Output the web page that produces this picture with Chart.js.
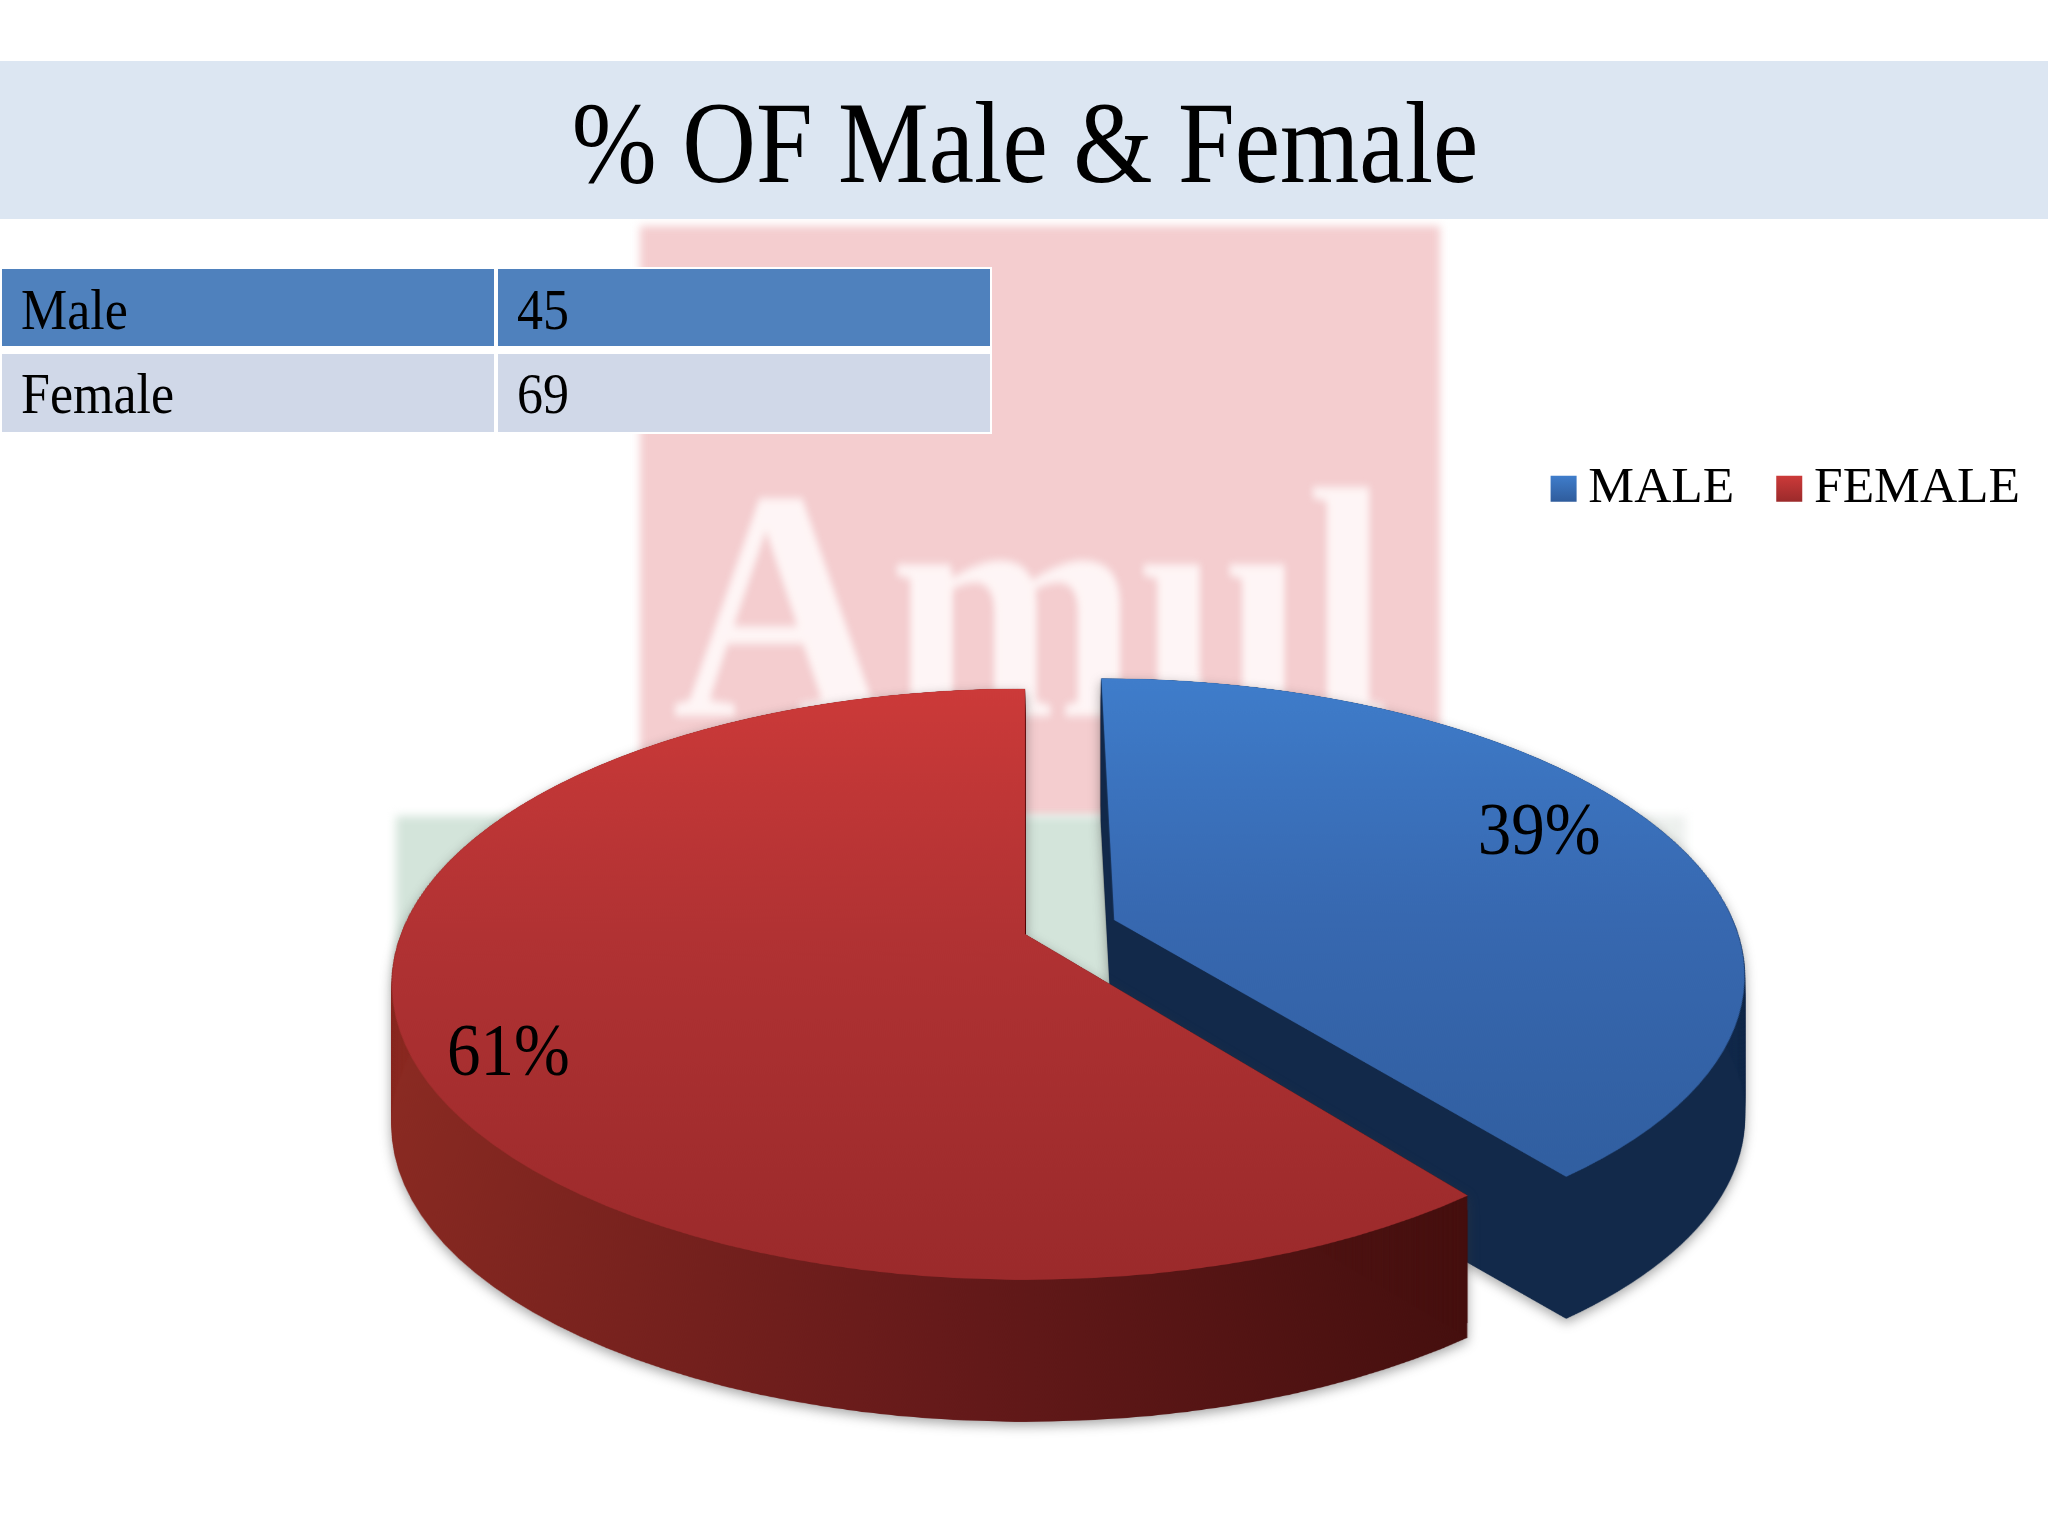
<!DOCTYPE html>
<html lang="en">
<head>
    <meta charset="UTF-8">
    <title>% OF Male &amp; Female</title>
    <script src="https://cdn.jsdelivr.net/npm/chart.js"></script>
    <style>
        html, body {
            margin: 0;
            width: 2048px;
            height: 1536px;
            overflow: hidden;
            background: #fff;
            font-family: 'Liberation Serif', serif;
            color: #000;
        }

        .mark-red {
            position: absolute;
            left: 640px;
            top: 226px;
            width: 800px;
            height: 590px;
            background: #f4cdcf;
            filter: blur(4px);
        }

        .mark-green {
            position: absolute;
            left: 396px;
            top: 816px;
            width: 1290px;
            height: 180px;
            background: linear-gradient(90deg, #d3e4da, #d3e4da 65%, #eef1ef);
            filter: blur(5px);
        }

        .mark-text {
            position: absolute;
            left: 672px;
            top: 440px;
            font-size: 330px;
            line-height: 330px;
            font-weight: bold;
            color: rgba(255,250,250,0.9);
            filter: blur(4px);
            transform: scaleX(0.91);
            transform-origin: left top;
        }

        .band {
            position: absolute;
            left: 0;
            top: 61px;
            width: 2048px;
            height: 158px;
            background: #dce6f2;
            text-align: center;
        }

        .band h1 {
            margin: 3px 0 0 2px;
            font-size: 102px;
            font-weight: normal;
            line-height: 158px;
            transform: scaleY(1.14);
        }

        table {
            position: absolute;
            left: 0;
            top: 267px;
            border-collapse: separate;
            border-spacing: 0;
            background: #fff;
        }

        td {
            box-sizing: border-box;
            padding: 0 0 0 19px;
            font-size: 52px;
            border: 2px solid #fff;
        }

        td:first-child { width: 496px; }
        td:last-child { width: 496px; }
        tr:nth-child(1) td { background: #4f81bd; height: 83px; border-bottom-width: 4px; padding-top: 4px; }
        tr:nth-child(2) td { background: #d0d8e8; height: 84px; border-top-width: 4px; }
        td span { display: inline-block; transform: scaleY(1.1); }

        #pie {
            position: absolute;
            left: 0;
            top: 0;
        }
    </style>
</head>
<body>
    <div class="mark-red"></div>
    <div class="mark-green"></div>
    <div class="mark-text">Amul</div>
    <div class="band"><h1>% OF Male &amp; Female</h1></div>
    <table id="counts"></table>
    <canvas id="pie" width="2048" height="1536"></canvas>

    <script>
        const tableLabels = ['Male', 'Female'];
        const categories = ['MALE', 'FEMALE'];
        const counts = [45, 69];

        const topColors = [
            ['#3f7dcb', '#3768b0', '#2f5c9c'],
            ['#cc3a39', '#b13233', '#9b2a2b']
        ];
        const sideColors = [
            ['#12294a', '#12294a', '#12294a'],
            ['#8a2a22', '#661a1a', '#3f0d0c']
        ];
        const legendColors = [['#3f7dcb', '#2f5c9c'], ['#cc3a39', '#9b2a2b']];

        // perspective of the tilted pie: apex on screen, radius, vertical reach, foreshortening
        const PIE_X = 1025, PIE_Y = 934, RADIUS = 624, REACH = 287, TILT = 0.17;
        const DEPTH = 142;
        const explode = [95, 0];
        const labelFrac = [0.915, 0.835];
        const labelNudge = [-18, 40];

        const SRC = 2048; // flat drawing of the pie before it is tilted

        const table = document.getElementById('counts');
        tableLabels.forEach((label, i) => {
            const row = table.insertRow();
            row.insertCell().innerHTML = '<span>' + label + '</span>';
            row.insertCell().innerHTML = '<span>' + counts[i] + '</span>';
        });

        function newCanvas(w, h) {
            const c = document.createElement('canvas');
            c.width = w;
            c.height = h;
            return c;
        }

        // one row of the screen at a time, out of the flat drawing
        function tilt(flat) {
            const out = newCanvas(2048, 1536);
            const o = out.getContext('2d');
            o.imageSmoothingQuality = 'high';
            const screenY = v => PIE_Y + REACH * v / (1 - TILT * v);
            const flatV = y => {
                const t = (y - PIE_Y) / REACH;
                return t / (1 + TILT * t);
            };
            const first = Math.floor(screenY(-1.15)), last = Math.ceil(screenY(1.1));
            for (let y = first; y < last; y++) {
                const v0 = flatV(y), v1 = flatV(y + 1);
                const sc = 1 + TILT * (y + 0.5 - PIE_Y) / REACH;
                o.drawImage(flat, 0, SRC / 2 + v0 * RADIUS, SRC, (v1 - v0) * RADIUS,
                    PIE_X - SRC / 2 * sc, y, SRC * sc, 1);
            }
            return out;
        }

        function flatSlice(arc, i, paint) {
            const flat = newCanvas(SRC, SRC);
            const f = flat.getContext('2d');
            const mid = (arc.startAngle + arc.endAngle) / 2;
            f.translate(SRC / 2 - arc.x + Math.cos(mid) * explode[i], SRC / 2 - arc.y + Math.sin(mid) * explode[i]);
            paint(f);
            return flat;
        }

        const pie3d = {
            id: 'pie3d',
            beforeDatasetsDraw(chart) {
                const ctx = chart.ctx;
                chart.getDatasetMeta(0).data.forEach((arc, i) => {
                    const side = tilt(flatSlice(arc, i, f => {
                        const g = f.createLinearGradient(arc.x - RADIUS, 0, arc.x + RADIUS * 0.75, 0);
                        sideColors[i].forEach((c, n) => g.addColorStop(n / 2, c));
                        f.fillStyle = g;
                        f.beginPath();
                        f.moveTo(arc.x, arc.y);
                        f.arc(arc.x, arc.y, arc.outerRadius, arc.startAngle, arc.endAngle);
                        f.closePath();
                        f.fill();
                    }));
                    // pull the silhouette straight down into a solid
                    const s = side.getContext('2d');
                    let done = 0;
                    while (done < DEPTH) {
                        const step = Math.min(done + 1, DEPTH - done);
                        s.drawImage(side, 0, step);
                        done += step;
                    }
                    ctx.save();
                    ctx.shadowColor = 'rgba(60,60,60,0.45)';
                    ctx.shadowBlur = 12;
                    ctx.shadowOffsetY = 4;
                    ctx.drawImage(side, 0, 0);
                    ctx.restore();
                    ctx.drawImage(tilt(flatSlice(arc, i, f => arc.draw(f))), 0, 0);
                });
                return false;
            },
            afterDraw(chart) {
                const ctx = chart.ctx;
                const total = counts.reduce((a, b) => a + b, 0);
                chart.getDatasetMeta(0).data.forEach((arc, i) => {
                    const mid = (arc.startAngle + arc.endAngle) / 2;
                    const u = Math.cos(mid) * labelFrac[i], v = Math.sin(mid) * labelFrac[i];
                    const w = 1 - TILT * v;
                    ctx.save();
                    ctx.translate(PIE_X + RADIUS * u / w, PIE_Y + REACH * v / w + labelNudge[i]);
                    ctx.scale(1, 1.1);
                    ctx.font = "67px 'Liberation Serif'";
                    ctx.fillStyle = '#000';
                    ctx.textAlign = 'center';
                    ctx.textBaseline = 'middle';
                    ctx.fillText(Math.round(counts[i] / total * 100) + '%', 0, 0);
                    ctx.restore();
                });
                // legend swatches sit closer to their text than the library puts them
                chart.legend.legendHitBoxes.forEach((box, i) => {
                    const x = box.left + 14, y = box.top + (box.height - 26) / 2;
                    const g = ctx.createLinearGradient(0, y, 0, y + 26);
                    g.addColorStop(0, legendColors[i][0]);
                    g.addColorStop(1, legendColors[i][1]);
                    ctx.fillStyle = g;
                    ctx.fillRect(x, y, 26, 26);
                });
            }
        };

        const pieCtx = document.getElementById('pie').getContext('2d');

        function sliceFill(context) {
            const colors = topColors[context.dataIndex];
            const area = context.chart.chartArea;
            if (!area || area.top === undefined) return colors[1];
            const cy = (area.top + area.bottom) / 2;
            const g = context.chart.ctx.createLinearGradient(0, cy - RADIUS, 0, cy + RADIUS);
            colors.forEach((c, n) => g.addColorStop(n / 2, c));
            return g;
        }

        new Chart(pieCtx, {
            type: 'pie',
            data: {
                labels: categories,
                datasets: [{
                    data: counts,
                    backgroundColor: sliceFill,
                    borderWidth: 0
                }]
            },
            options: {
                responsive: false,
                animation: false,
                radius: RADIUS,
                layout: { padding: { top: 435, right: 0 } },
                plugins: {
                    tooltip: { enabled: false },
                    legend: {
                        position: 'top',
                        align: 'end',
                        labels: {
                            boxWidth: 26,
                            boxHeight: 26,
                            padding: 28,
                            color: '#000',
                            font: { family: "'Liberation Serif'", size: 51.5 },
                            generateLabels(chart) {
                                const items = Chart.overrides.pie.plugins.legend.labels.generateLabels(chart);
                                items.forEach(item => {
                                    item.fillStyle = 'rgba(0,0,0,0)';
                                    item.strokeStyle = 'rgba(0,0,0,0)';
                                    item.lineWidth = 0;
                                });
                                return items;
                            }
                        }
                    }
                }
            },
            plugins: [pie3d]
        });
    </script>
</body>
</html>
